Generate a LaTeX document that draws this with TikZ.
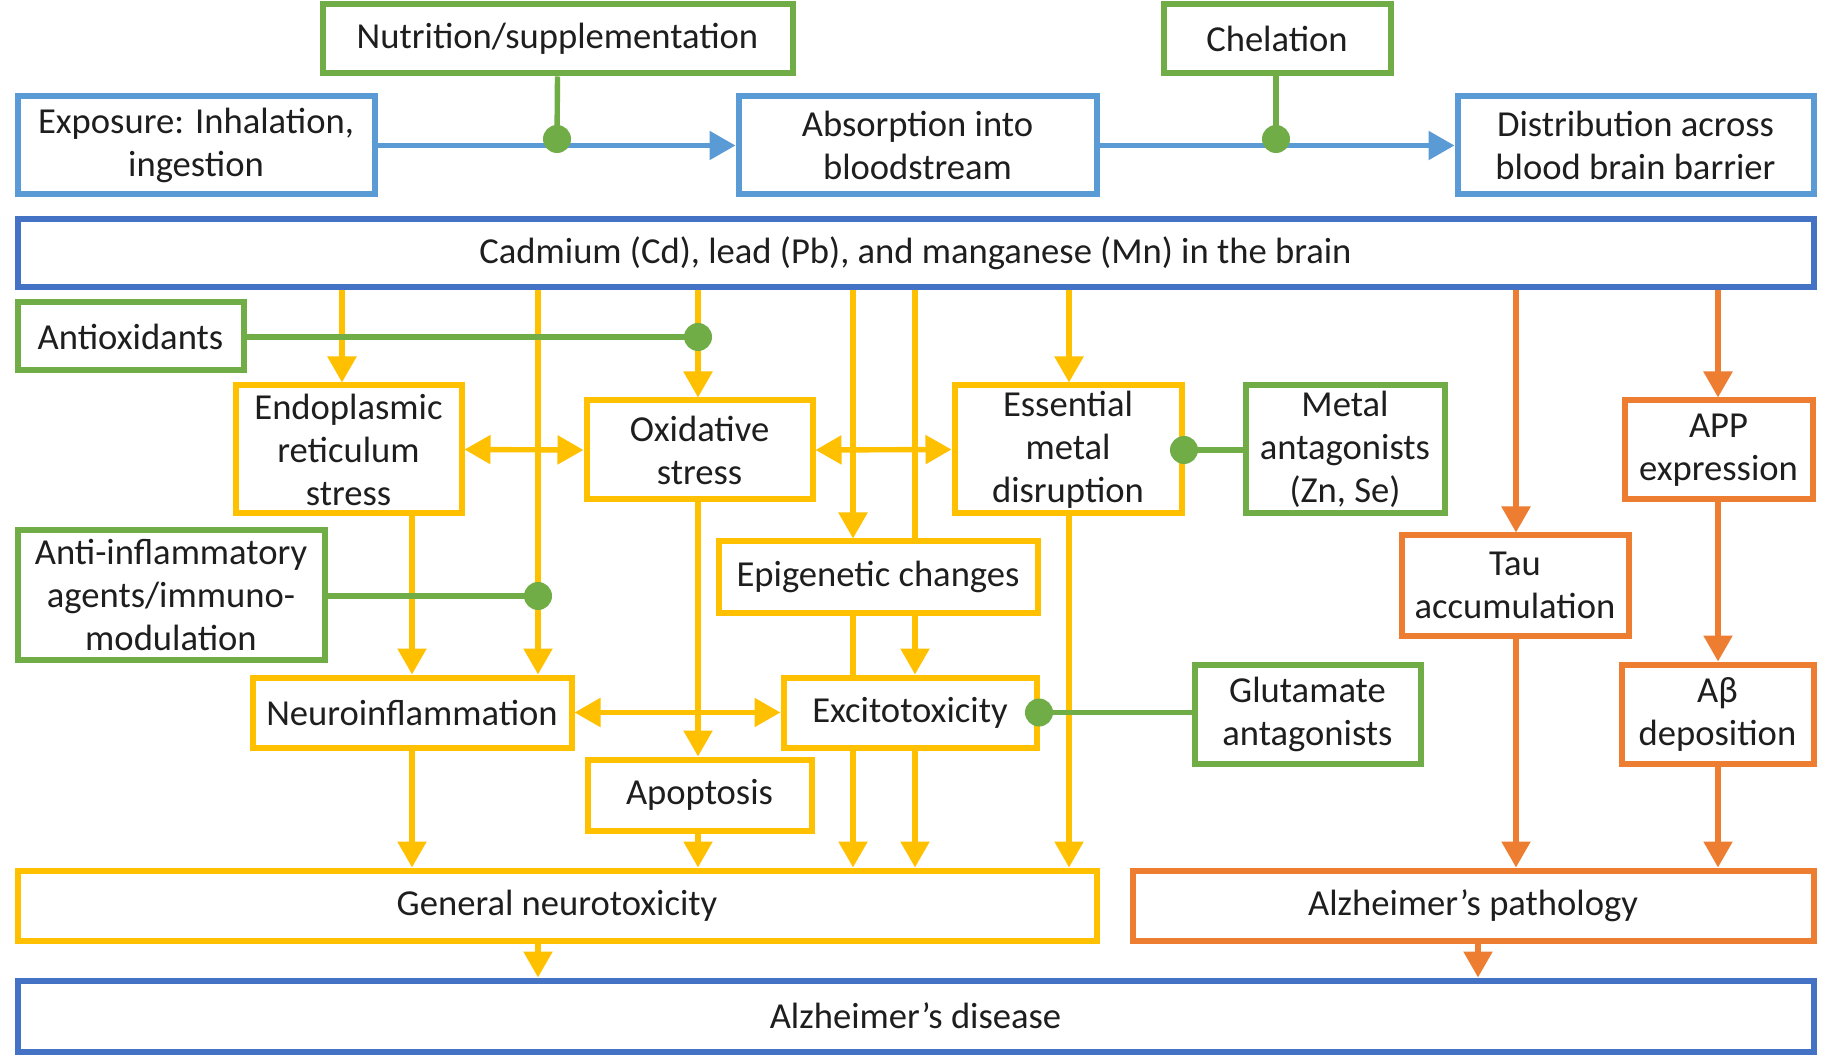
\documentclass[tikz,border=0pt]{standalone}
\usepackage{fontspec}
\setmainfont{Carlito}
\usetikzlibrary{arrows.meta}
\definecolor{lblue}{HTML}{5B9BD5}
\definecolor{dblue}{HTML}{4472C4}
\definecolor{cgreen}{HTML}{70AD47}
\definecolor{cyellow}{HTML}{FFC000}
\definecolor{corange}{HTML}{ED7D31}
\definecolor{ctext}{HTML}{1E1E1E}
\tikzset{
  box/.style={draw, fill=white, line width=3pt, align=center, inner sep=0pt,
    text=ctext, font=\fontsize{18.3}{21.5}\selectfont},
  lbbox/.style={box, draw=lblue},
  dbbox/.style={box, draw=dblue},
  gbox/.style={box, draw=cgreen},
  ybox/.style={box, draw=cyellow},
  obox/.style={box, draw=corange},
  tip/.tip={Triangle[length=13pt, width=14pt]},
  conn/.style={line width=2.7pt},
  yarr/.style={conn, draw=cyellow, -tip, fill=cyellow},
  yline/.style={conn, draw=cyellow},
  ydbl/.style={conn, draw=cyellow, tip-tip, fill=cyellow},
  oarr/.style={conn, draw=corange, -tip, fill=corange},
  barr/.style={conn, draw=lblue, -tip, fill=lblue},
  gline/.style={conn, draw=cgreen},
  gdot/.style={fill=cgreen},
}
\begin{document}
\begin{tikzpicture}[x=0.5pt, y=-0.5pt]
\useasboundingbox[fill=white] (0,0) rectangle (1830,1063);

% nodes
\node[gbox, minimum width=235pt, minimum height=34.5pt] (nut) at (557.5,39) {Nutrition/supplementation};
\node[gbox, minimum width=113.5pt, minimum height=34.5pt] (chel) at (1277,39) {Chelation};
\node[lbbox, minimum width=178.5pt, minimum height=49pt] (expo) at (196,145.5) {Exposure: Inhalation,\\ ingestion};
\node[lbbox, minimum width=179pt, minimum height=49pt] (abs) at (917.5,145.5) {Absorption into\\ bloodstream};
\node[lbbox, minimum width=178pt, minimum height=49pt] (dist) at (1635.5,145.5) {Distribution across\\ blood brain barrier};
\node[dbbox, minimum width=898pt, minimum height=34pt] (cad) at (915.5,253.5) {Cadmium (Cd), lead (Pb), and manganese (Mn) in the brain};
\node[gbox, minimum width=113pt, minimum height=34pt] (antiox) at (130.5,336.5) {Antioxidants};
\node[ybox, minimum width=113pt, minimum height=64pt] (er) at (348.5,449.5) {Endoplasmic\\ reticulum\\ stress};
\node[ybox, minimum width=113pt, minimum height=49.5pt] (os) at (699.5,450) {Oxidative\\ stress};
\node[ybox, minimum width=113.5pt, minimum height=64pt] (ess) at (1068,449.5) {Essential\\ metal\\ disruption};
\node[gbox, minimum width=99.5pt, minimum height=64pt] (metal) at (1345,449.5) {Metal\\ antagonists\\ (Zn, Se)};
\node[obox, minimum width=94pt, minimum height=49.5pt] (app) at (1718.5,450) {APP\\ expression};
\node[gbox, minimum width=153.5pt, minimum height=64.5pt] (antiinf) at (171,595) {Anti-inflammatory\\ agents/immuno-\\ modulation};
\node[ybox, minimum width=159.5pt, minimum height=35.5pt] (epi) at (878,577) {Epigenetic changes};
\node[obox, minimum width=113.5pt, minimum height=50pt] (tau) at (1515,585.5) {Tau\\ accumulation};
\node[ybox, minimum width=159.5pt, minimum height=35pt] (neuro) at (412,712.5) {Neuroinflammation};
\node[ybox, minimum width=126.5pt, minimum height=35pt] (excit) at (910,712.5) {Excitotoxicity};
\node[gbox, minimum width=113pt, minimum height=49.5pt] (glut) at (1307.5,714) {Glutamate\\ antagonists};
\node[obox, minimum width=96pt, minimum height=49.5pt] (abeta) at (1717.5,714) {Aβ\\ deposition};
\node[ybox, minimum width=112pt, minimum height=35.5pt] (apop) at (699.5,795) {Apoptosis};
\node[ybox, minimum width=539.5pt, minimum height=35pt] (gen) at (557,905.5) {General neurotoxicity};
\node[obox, minimum width=340.5pt, minimum height=35pt] (path) at (1473,905.5) {Alzheimer’s pathology};
\node[dbbox, minimum width=898pt, minimum height=35.5pt] (ad) at (915.5,1016) {Alzheimer’s disease};

% x positions of vertical connectors
\coordinate (xa) at (342,0);
\coordinate (xb) at (538,0);
\coordinate (xc) at (698,0);
\coordinate (xd) at (853,0);
\coordinate (xe) at (915,0);
\coordinate (xf) at (1069,0);
\coordinate (xg) at (1516,0);
\coordinate (xh) at (1718,0);
\coordinate (xi) at (412,0);
\coordinate (xj) at (1478,0);

% top row
\draw[barr] (expo.east) -- (abs.west);
\draw[barr] (abs.east) -- (dist.west);
\coordinate (dotN) at (557,139);
\coordinate (dotC) at (1276,139);
\draw[gline] (nut.south) -- (dotN);
\draw[gline] (chel.south -| dotC) -- (dotC);
\fill[gdot] (dotN) circle (7pt);
\fill[gdot] (dotC) circle (7pt);

% yellow from cadmium
\draw[yarr] (cad.south -| xa) -- (er.north -| xa);
\draw[yarr] (cad.south -| xb) -- (neuro.north -| xb);
\draw[yarr] (cad.south -| xc) -- (os.north -| xc);
\draw[yarr] (cad.south -| xd) -- (epi.north -| xd);
\draw[yline] (cad.south -| xe) -- (epi.north -| xe);
\draw[yarr] (cad.south -| xf) -- (ess.north -| xf);
% orange from cadmium
\draw[oarr] (cad.south -| xg) -- (tau.north -| xg);
\draw[oarr] (cad.south -| xh) -- (app.north -| xh);

% middle yellow
\draw[ydbl] (er.east) -- (os.west);
\draw[ydbl] (os.east) -- (ess.west);
\draw[yarr] (er.south -| xi) -- (neuro.north -| xi);
\draw[yarr] (os.south -| xc) -- (apop.north -| xc);
\draw[yline] (epi.south -| xd) -- (excit.north -| xd);
\draw[yarr] (epi.south -| xe) -- (excit.north -| xe);
\draw[ydbl] (neuro.east) -- (excit.west);
\draw[yarr] (neuro.south -| xi) -- (gen.north -| xi);
\draw[yarr] (apop.south -| xc) -- (gen.north -| xc);
\draw[yarr] (excit.south -| xd) -- (gen.north -| xd);
\draw[yarr] (excit.south -| xe) -- (gen.north -| xe);
\draw[yarr] (ess.south -| xf) -- (gen.north -| xf);
\draw[yarr] (gen.south -| xb) -- (ad.north -| xb);

% orange
\draw[oarr] (tau.south -| xg) -- (path.north -| xg);
\draw[oarr] (app.south -| xh) -- (abeta.north -| xh);
\draw[oarr] (abeta.south -| xh) -- (path.north -| xh);
\draw[oarr] (path.south -| xj) -- (ad.north -| xj);

% green inhibitors
\coordinate (dotA) at (698,337);
\coordinate (dotI) at (538,596);
\coordinate (dotE) at (1184,450);
\coordinate (dotX) at (1039,712.5);
\draw[gline] (antiox.east |- dotA) -- (dotA);
\draw[gline] (antiinf.east |- dotI) -- (dotI);
\draw[gline] (metal.west |- dotE) -- (dotE);
\draw[gline] (glut.west |- dotX) -- (dotX);
\fill[gdot] (dotA) circle (7pt);
\fill[gdot] (dotI) circle (7pt);
\fill[gdot] (dotE) circle (7pt);
\fill[gdot] (dotX) circle (7pt);
\end{tikzpicture}
\end{document}
